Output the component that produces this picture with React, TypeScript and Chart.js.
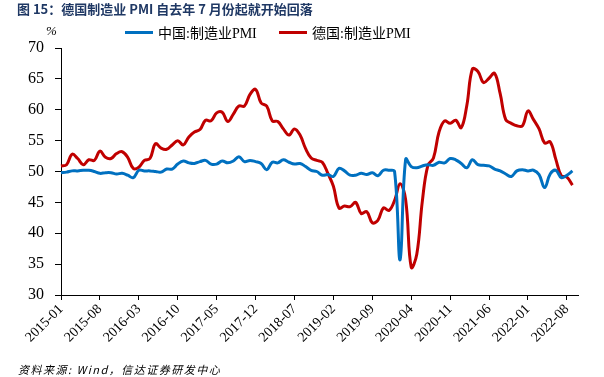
import React, { useEffect, useRef } from "react";
import { Chart, registerables } from "chart.js";

Chart.register(...registerables);

const START_YEAR = 2015;
const MONTH_COUNT = 94; // 2015-01 .. 2022-10 (axis runs one month past the data)

const months: string[] = [];
for (let i = 0; i < MONTH_COUNT; i++) {
  const y = START_YEAR + Math.floor(i / 12);
  const m = (i % 12) + 1;
  months.push(`${y}-${m < 10 ? "0" + m : m}`);
}

const chinaPMI = [
  49.8, 49.9, 50.1, 50.1, 50.2, 50.2, 50.0, 49.7, 49.8, 49.8, 49.6, 49.7,
  49.4, 49.0, 50.2, 50.1, 50.1, 50.0, 49.9, 50.4, 50.4, 51.2, 51.7, 51.4,
  51.3, 51.6, 51.8, 51.2, 51.2, 51.7, 51.4, 51.7, 52.4, 51.6, 51.8, 51.6,
  51.3, 50.3, 51.5, 51.4, 51.9, 51.5, 51.2, 51.3, 50.8, 50.2, 50.0, 49.4,
  49.5, 49.2, 50.5, 50.1, 49.4, 49.4, 49.7, 49.5, 49.8, 49.3, 50.2, 50.2,
  50.0, 35.7, 52.0, 50.8, 50.6, 50.9, 51.1, 51.0, 51.5, 51.4, 52.1, 51.9,
  51.3, 50.6, 51.9, 51.1, 51.0, 50.9, 50.4, 50.1, 49.6, 49.2, 50.1, 50.3,
  50.1, 50.2, 49.5, 47.4, 49.6, 50.2, 49.0, 49.4, 50.1,
];

const germanyPMI = [
  50.9, 51.1, 52.8, 52.1, 51.1, 51.9, 51.8, 53.3, 52.3, 52.1, 52.9, 53.2,
  52.3, 50.5, 50.7, 51.8, 52.1, 54.5, 53.8, 53.6, 54.3, 55.0, 54.3, 55.6,
  56.4, 56.8, 58.3, 58.2, 59.5, 59.6, 58.1, 59.3, 60.6, 60.6, 62.5, 63.3,
  61.1, 60.6, 58.2, 58.1, 56.9, 55.9, 56.9, 55.9, 53.7, 52.2, 51.8, 51.5,
  49.7, 47.6, 44.1, 44.4, 44.3, 45.0, 43.2, 43.5, 41.7, 42.1, 44.1, 43.7,
  45.3, 48.0, 45.4, 34.5, 36.6, 45.2, 51.0, 52.2, 56.4, 58.2, 57.8, 58.3,
  57.1, 60.7, 66.6, 66.2, 64.4, 65.1, 65.9, 62.6, 58.4, 57.8, 57.4, 57.4,
  59.8, 58.4, 56.9, 54.6, 54.8, 52.0, 49.3, 49.1, 47.8,
];

const seriesNames = ["中国:制造业PMI", "德国:制造业PMI"];
const seriesColors = ["#0070C0", "#C00000"];
const yTicks = [30, 35, 40, 45, 50, 55, 60, 65, 70];
const TICK_EVERY = 7;

const serif = "'Liberation Serif', 'Times New Roman', 'Noto Sans CJK SC', serif";

export default function App() {
  const ref = useRef<HTMLCanvasElement | null>(null);

  useEffect(() => {
    if (!ref.current) return;
    const chart = new Chart(ref.current, {
      type: "line",
      data: {
        labels: months,
        datasets: [
          {
            label: seriesNames[0],
            data: chinaPMI,
            borderColor: seriesColors[0],
            backgroundColor: seriesColors[0],
            borderWidth: 3,
            pointRadius: 0,
            tension: 0.4,
            fill: false,
          },
          {
            label: seriesNames[1],
            data: germanyPMI,
            borderColor: seriesColors[1],
            backgroundColor: seriesColors[1],
            borderWidth: 3,
            pointRadius: 0,
            tension: 0.4,
            fill: false,
          },
        ],
      },
      options: {
        animation: false,
        responsive: false,
        maintainAspectRatio: false,
        layout: { padding: { top: 48, right: 26, left: 0, bottom: 0 } },
        plugins: {
          legend: { display: false },
          tooltip: { enabled: false },
          title: { display: false },
        },
        scales: {
          x: {
            type: "category",
            offset: false,
            grid: {
              display: true,
              drawOnChartArea: false,
              drawTicks: true,
              tickLength: 5,
              color: "#000",
            },
            border: { display: true, color: "#000", width: 1 },
            ticks: {
              autoSkip: false,
              maxRotation: 45,
              minRotation: 45,
              padding: 1,
              color: "#000",
              font: { family: serif, size: 14 },
              callback: (_v: any, idx: number) =>
                idx % TICK_EVERY === 0 ? months[idx] : null,
            },
            afterFit: (scale: any) => {
              scale.height = 82;
            },
          },
          y: {
            min: 30,
            max: 70,
            afterBuildTicks: (scale: any) => {
              scale.ticks = yTicks.map((v) => ({ value: v }));
            },
            grid: {
              display: true,
              drawOnChartArea: false,
              drawTicks: true,
              tickLength: 6,
              color: "#000",
            },
            border: { display: true, color: "#000", width: 1 },
            ticks: {
              padding: 11,
              color: "#000",
              font: { family: serif, size: 16 },
            },
            afterFit: (scale: any) => {
              scale.width = 61;
            },
          },
        },
      },
    });
    return () => chart.destroy();
  }, []);

  const legendItem = (i: number, left: number) => (
    <div
      style={{
        position: "absolute",
        left,
        top: 22,
        display: "flex",
        alignItems: "center",
        fontFamily: serif,
        fontSize: 14,
        color: "#000",
        whiteSpace: "nowrap",
      }}
    >
      <span
        style={{
          display: "inline-block",
          width: 28,
          height: 3,
          background: seriesColors[i],
          marginRight: 5,
        }}
      />
      <span>{seriesNames[i]}</span>
    </div>
  );

  return (
    <div
      style={{
        position: "fixed",
        left: 0,
        top: 0,
        width: 604,
        height: 377,
        background: "#fff",
        overflow: "hidden",
      }}
    >
      <canvas
        ref={ref}
        width={604}
        height={377}
        style={{ position: "absolute", left: 0, top: 0, width: 604, height: 377 }}
      />
      <div
        style={{
          position: "absolute",
          left: 17,
          top: 0,
          fontFamily: "'Noto Sans CJK SC', 'Liberation Sans', sans-serif",
          fontWeight: "bold",
          fontSize: 13,
          color: "#1F3864",
          whiteSpace: "nowrap",
          lineHeight: "17px",
        }}
      >
        图 15：德国制造业 PMI 自去年 7 月份起就开始回落
      </div>
      <div
        style={{
          position: "absolute",
          left: 46,
          top: 23,
          fontFamily: serif,
          fontStyle: "italic",
          fontSize: 13,
          color: "#000",
        }}
      >
        %
      </div>
      {legendItem(0, 125)}
      {legendItem(1, 279)}
      <div
        style={{
          position: "absolute",
          left: 18,
          top: 362,
          fontFamily: "'Noto Sans CJK SC', 'Liberation Sans', sans-serif",
          fontStyle: "italic",
          fontSize: 11,
          letterSpacing: "1.5px",
          color: "#000",
          whiteSpace: "nowrap",
          lineHeight: "14px",
        }}
      >
        资料来源: Wind，信达证券研发中心
      </div>
    </div>
  );
}
